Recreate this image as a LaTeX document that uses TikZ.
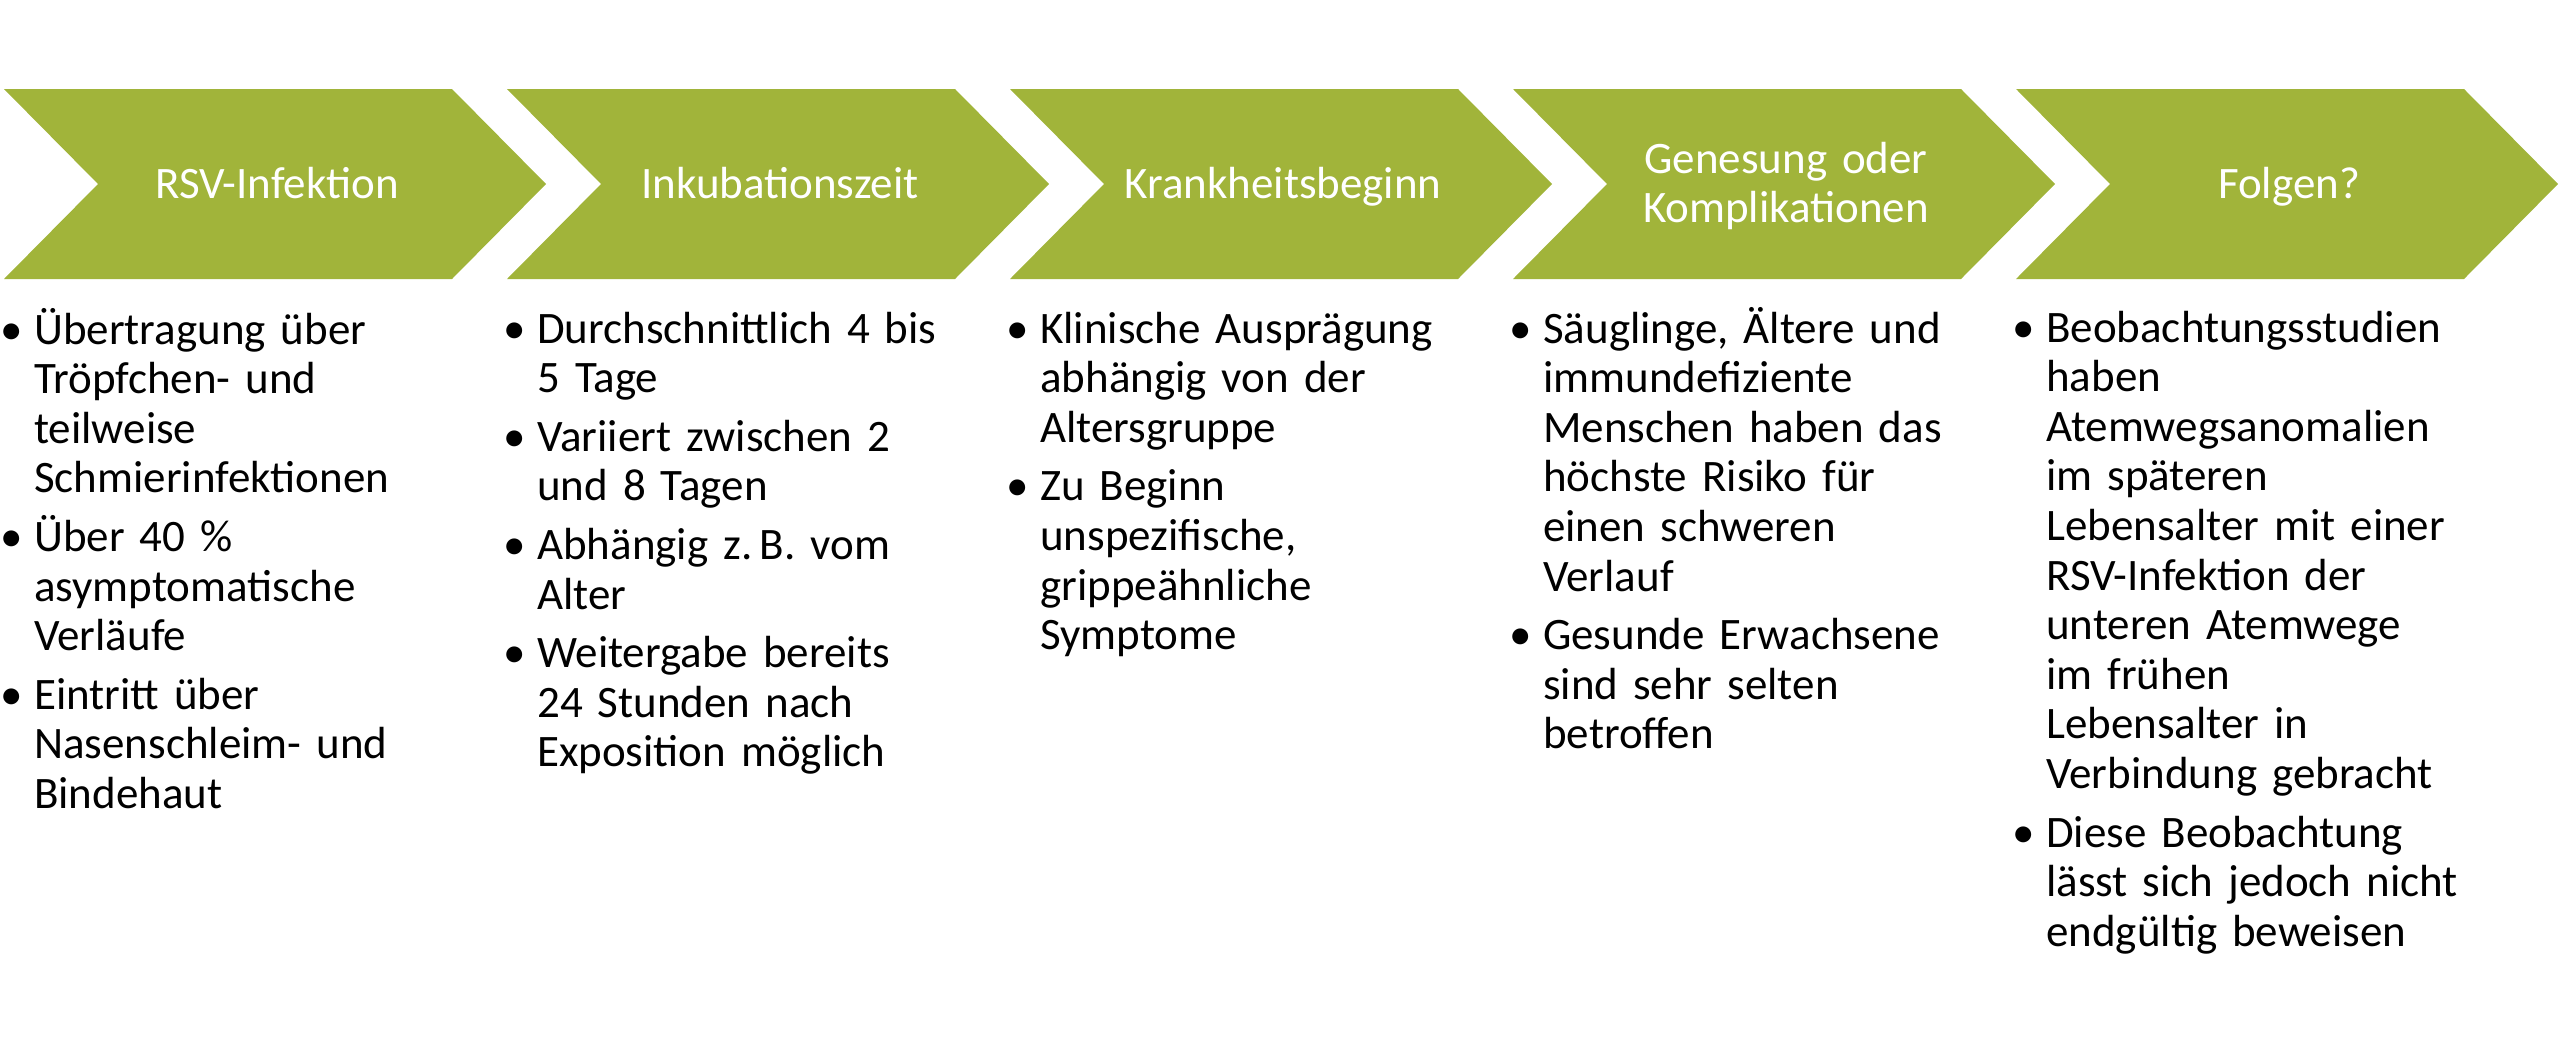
\documentclass[tikz,border=0pt]{standalone}
\usepackage{fontspec}
\setmainfont{Carlito}
\definecolor{chevgreen}{RGB}{161,180,58}
\newcommand\bitem[1]{\noindent\hangindent=30pt\hangafter=1\makebox[30pt][l]{\hspace{-4pt}•}#1\par}
\newcommand\nl{\newline}
\tikzset{
  chev/.style={fill=chevgreen, draw=none},
  head/.style={text=white, inner sep=0pt, font=\fontsize{45}{49.6}\selectfont, text width=520pt, align=center, anchor=base},
  body/.style={text=black, inner sep=0pt, font=\fontsize{45}{49.6}\selectfont, text width=520pt, anchor=base west}
}
\begin{document}
\begin{tikzpicture}[x=1pt,y=-1pt]
\useasboundingbox (0,0) rectangle (2560,1058);
\foreach \i in {0,...,4}{
  \pgfmathsetmacro\L{4+503*\i}
  \fill[chev] (\L,89) -- ({\L+448},89) -- ({\L+542},184) -- ({\L+448},279) -- (\L,279) -- ({\L+94},184) -- cycle;
}
\node[head] (h1) at (277,198) {RSV-Infektion};
\node[head] (h2) at (780,198) {Inkubationszeit};
\node[head] (h3) at (1283,198) {Krankheitsbeginn};
\node[head] (h4) at (1786,173) {Genesung oder\\Komplikationen};
\node[head] (h5) at (2289,198) {Folgen?};

\node[body] (b1) at (4,344) {\raggedright\setlength\parskip{9pt}%
\bitem{Übertragung über\nl Tröpfchen- und\nl teilweise\nl Schmierinfektionen}%
\bitem{Über 40 \%\nl asymptomatische\nl Verläufe}%
\bitem{Eintritt über\nl Nasenschleim- und\nl Bindehaut}};

\node[body] (b2) at (507,343) {\raggedright\setlength\parskip{9pt}%
\bitem{Durchschnittlich 4 bis\nl 5 Tage}%
\bitem{Variiert zwischen 2\nl und 8 Tagen}%
\bitem{Abhängig z.\,B. vom\nl Alter}%
\bitem{Weitergabe bereits\nl 24 Stunden nach\nl Exposition möglich}};

\node[body] (b3) at (1010,343) {\raggedright\setlength\parskip{9pt}%
\bitem{Klinische Ausprägung\nl abhängig von der\nl Altersgruppe}%
\bitem{Zu Beginn\nl unspezifische,\nl grippeähnliche\nl Symptome}};

\node[body] (b4) at (1513,343) {\raggedright\setlength\parskip{9pt}%
\bitem{Säuglinge, Ältere und\nl immundefiziente\nl Menschen haben das\nl höchste Risiko für\nl einen schweren\nl Verlauf}%
\bitem{Gesunde Erwachsene\nl sind sehr selten\nl betroffen}};

\node[body] (b5) at (2016,342) {\raggedright\setlength\parskip{9pt}%
\bitem{Beobachtungsstudien\nl haben\nl Atemwegsanomalien\nl im späteren\nl Lebensalter mit einer\nl RSV-Infektion der\nl unteren Atemwege\nl im frühen\nl Lebensalter in\nl Verbindung gebracht}%
\bitem{Diese Beobachtung\nl lässt sich jedoch nicht\nl endgültig beweisen}};
\end{tikzpicture}
\end{document}
